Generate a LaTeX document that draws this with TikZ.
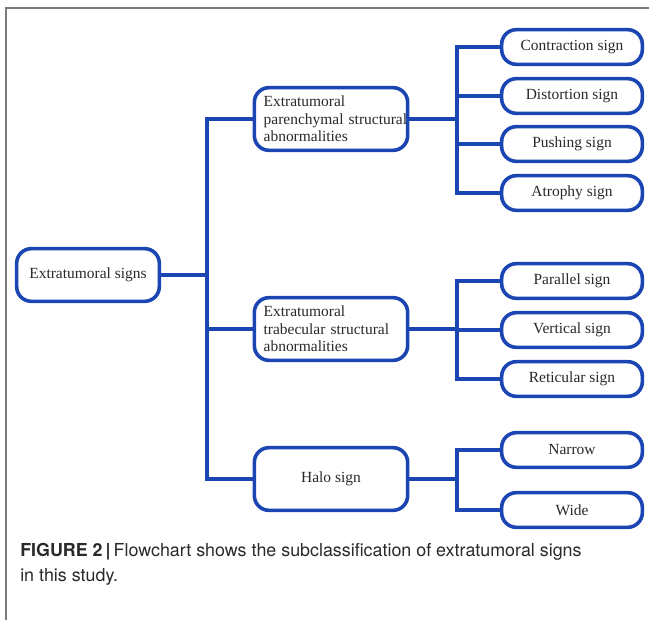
\documentclass[tikz,border=0pt]{standalone}
\usepackage{fontspec}
\setmainfont{Liberation Serif}
\newfontfamily\capfont{TeX Gyre Heros}
\usetikzlibrary{positioning,calc}
\definecolor{boxblue}{HTML}{1B45B3}
\definecolor{framegray}{HTML}{7A7A7A}
\definecolor{textcol}{HTML}{2A2A2A}

\begin{document}
\begin{tikzpicture}[x=0.75pt,y=-0.75pt,
  box/.style={draw=boxblue,line width=2.7pt,rounded corners=11pt,fill=white,text=textcol,
    font=\fontsize{11.6}{13.2}\selectfont,align=center,inner sep=0pt},
  leaf/.style={box,minimum width=105.5pt,minimum height=26pt},
  midbox/.style={box,minimum width=115pt,minimum height=47pt,text width=101pt,align=left},
  link/.style={draw=boxblue,line width=2.7pt}]
  \useasboundingbox (0,0) rectangle (649,623);
  % frame of the figure
  \draw[framegray,line width=1pt] (649,8) -- (6,8) -- (6,620);

  % root and the three groups
  \node[box,minimum width=107pt,minimum height=39.5pt] (root) at (88,275) {Extratumoral signs};
  \node[midbox] (paren) at (331,119) {Extratumoral\\\mbox{parenchymal structural}\\abnormalities};
  \node[midbox] (trab) at (331,329) {Extratumoral\\\mbox{trabecular structural}\\abnormalities};
  \node[box,minimum width=115pt,minimum height=47pt] (halo) at (331,479) {Halo sign};

  \coordinate (trunk) at (207,275);
  \draw[link] (root.east) -- (trunk);
  \draw[link] (paren.west) -| (trunk) |- (halo.west);
  \draw[link] (trab.west) -- (trab.west -| trunk);

  % leaves
  \foreach \nm/\y/\txt in {contr/47/{Contraction sign},dist/96/{Distortion sign},push/144/{Pushing sign},atro/193/{Atrophy sign},
      para/281/{Parallel sign},vert/330/{Vertical sign},retic/379/{Reticular sign},
      narrow/450/{Narrow},wide/510/{Wide}} {
    \node[leaf] (\nm) at (572,\y) {\txt};
  }

  \coordinate (pbranch) at (457,119);
  \coordinate (tbranch) at (457,329);
  \coordinate (hbranch) at (457,479);
  \draw[link] (paren.east) -- (pbranch);
  \draw[link] (contr.west) -| (pbranch) |- (atro.west);
  \foreach \nm in {dist,push} \draw[link] (pbranch |- \nm.west) -- (\nm.west);
  \draw[link] (trab.east) -- (tbranch);
  \draw[link] (para.west) -| (tbranch) |- (retic.west);
  \draw[link] (tbranch |- vert.west) -- (vert.west);
  \draw[link] (halo.east) -- (hbranch);
  \draw[link] (narrow.west) -| (hbranch) |- (wide.west);

  % caption
  \node[anchor=north west,align=left,inner sep=0pt,font=\capfont\fontsize{13.4}{18.8}\selectfont,text=textcol] (cap) at (20,543)
    {\textbf{FIGURE 2\,|}\,Flowchart shows the subclassification of extratumoral signs\\in this study.};
\end{tikzpicture}
\end{document}
